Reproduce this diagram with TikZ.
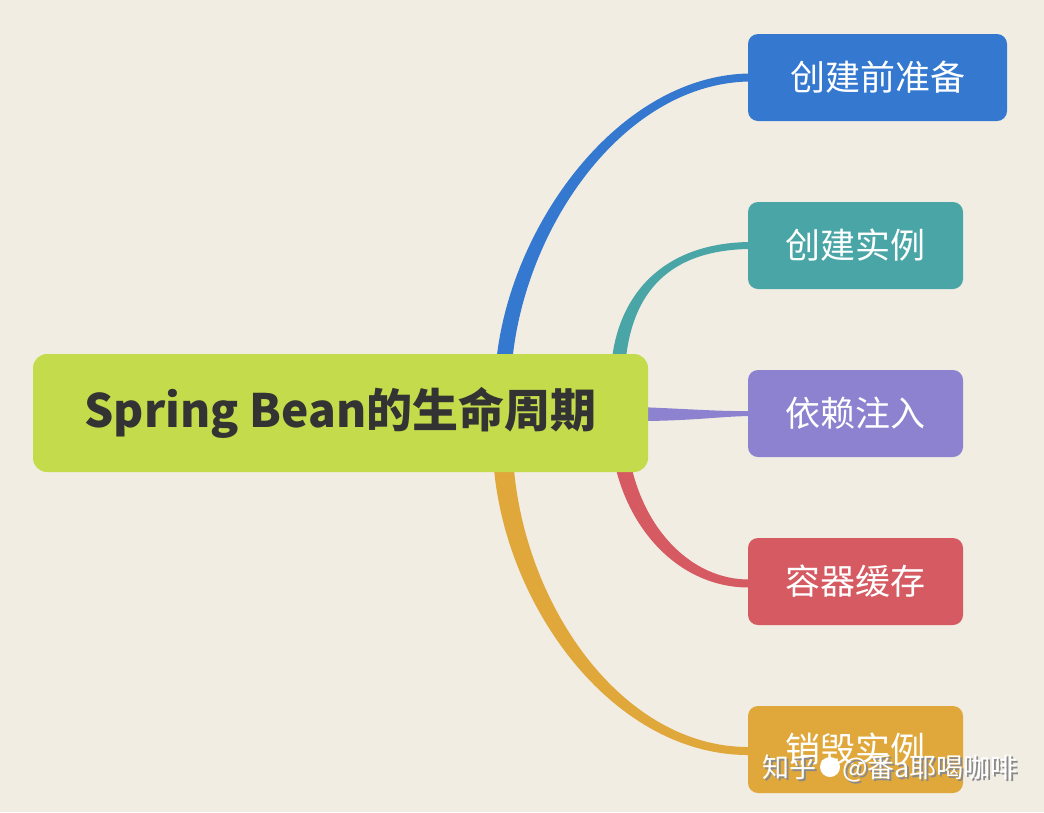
\documentclass[tikz,border=0pt]{standalone}
\usepackage{fontspec}
\setmainfont{Noto Sans CJK SC}
\usetikzlibrary{calc}
\definecolor{bgc}{HTML}{F1EDE3}
\definecolor{croot}{HTML}{C4DC4B}
\definecolor{ctext}{HTML}{333333}
\definecolor{cblue}{HTML}{3479CF}
\definecolor{cteal}{HTML}{4AA6A6}
\definecolor{cpurple}{HTML}{8C82CF}
\definecolor{cred}{HTML}{D55A62}
\definecolor{corange}{HTML}{E0A73A}
\definecolor{cshadow}{HTML}{8A8A8A}
\tikzset{
  rootbox/.style={fill=croot, rounded corners=14pt, minimum width=615pt, minimum height=118pt,
    inner sep=0pt, text=ctext, font=\fontsize{46}{54}\selectfont\bfseries},
  childbox/.style={rounded corners=10pt, minimum width=215pt, minimum height=87pt,
    inner sep=0pt, text=white, font=\fontsize{35}{40}\selectfont},
  wm/.style={anchor=west, inner sep=0pt, font=\fontsize{27}{32}\selectfont}
}
\begin{document}
\begin{tikzpicture}[x=1pt,y=-1pt]
\useasboundingbox (0,0) rectangle (1044,812);
\fill[bgc] (0,0) rectangle (1044,812);

% nodes placed first (invisible), drawn after connectors
\path (340.5,413) node[rootbox, fill=none, text opacity=0] (root) {Spring Bean的生命周期};
\path (877.5,77.5) node[childbox, minimum width=259pt, text opacity=0] (c1) {创建前准备};
\path (855.5,245.5) node[childbox, text opacity=0] (c2) {创建实例};
\path (855.5,413.5) node[childbox, text opacity=0] (c3) {依赖注入};
\path (855.5,581.5) node[childbox, text opacity=0] (c4) {容器缓存};
\path (855.5,749.5) node[childbox, text opacity=0] (c5) {销毁实例};

\coordinate (s1) at (503,380);
\coordinate (s2) at (618,370);
\coordinate (s4) at (621,455);
\coordinate (s5) at (503,455);

% connectors (tapered)
\fill[cblue] ($(s1)+(-8,0)$) .. controls (500,240) and (612,76) .. ($(c1.west)+(1,-4)$)
  -- ($(c1.west)+(1,4)$) .. controls (618,84) and (516,240) .. ($(s1)+(8,0)$) -- cycle;
\fill[cteal] ($(s2)+(-7,0)$) .. controls (615,300) and (658,243.5) .. ($(c2.west)+(1,-3.5)$)
  -- ($(c2.west)+(1,3.5)$) .. controls (662,250.5) and (629,300) .. ($(s2)+(7,0)$) -- cycle;
\fill[cpurple] ($(root.east)+(-10,-6)$) .. controls (690,409) and (720,411.5) .. ($(c3.west)+(1,-2.5)$)
  -- ($(c3.west)+(1,2.5)$) .. controls (720,416.5) and (690,421) .. ($(root.east)+(-10,8)$) -- cycle;
\fill[cred] ($(s4)+(-8,0)$) .. controls (626,530) and (680,587.5) .. ($(c4.west)+(1,6)$)
  -- ($(c4.west)+(1,-2)$) .. controls (692,579.5) and (642,530) .. ($(s4)+(8,0)$) -- cycle;
\fill[corange] ($(s5)+(-10,0)$) .. controls (500,600) and (610,755.5) .. ($(c5.west)+(1,5.5)$)
  -- ($(c5.west)+(1,-2.5)$) .. controls (620,747.5) and (520,600) .. ($(s5)+(10,0)$) -- cycle;

% boxes
\node[rootbox] at (root.center) {Spring Bean的生命周期};
\node[childbox, minimum width=259pt, fill=cblue] at (c1.center) {创建前准备};
\node[childbox, fill=cteal] at (c2.center) {创建实例};
\node[childbox, fill=cpurple] at (c3.center) {依赖注入};
\node[childbox, fill=cred] at (c4.center) {容器缓存};
\node[childbox, fill=corange] at (c5.center) {销毁实例};

% watermark
\node[wm, text=cshadow] (wms) at (764,770) {知乎\hspace{26pt}@番a耶喝咖啡};
\node[wm, text=white] (wmt) at (762,768) {知乎\hspace{26pt}@番a耶喝咖啡};
\fill[white] (830,767) circle (10pt);
\end{tikzpicture}
\end{document}
